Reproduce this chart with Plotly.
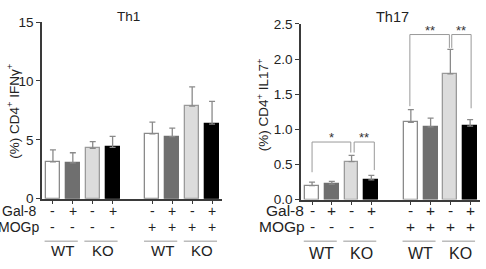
import plotly.graph_objects as go

W, H = 486, 269

# ---- data ----
positions = [0, 1, 2, 3, 5, 6, 7, 8]
th1_vals = [3.13, 3.05, 4.28, 4.36, 5.5, 5.27, 7.87, 6.34]
th1_err = [1.02, 0.85, 0.56, 0.94, 1.0, 0.73, 1.63, 1.93]
th17_vals = [0.20, 0.22, 0.54, 0.28, 1.10, 1.035, 1.79, 1.045]
th17_err = [0.05, 0.04, 0.09, 0.065, 0.18, 0.125, 0.35, 0.095]
gal8_row = ["-", "+", "-", "+", "-", "+", "-", "+"]
mogp_row = ["-", "-", "-", "-", "+", "+", "+", "+"]
groups = ["WT", "KO", "WT", "KO"]
group_start = [0, 2, 5, 7]
# significance brackets on Th17: (left x, right x, bracket y, left leg bottom, right leg bottom, label)
sig_brackets = [
    (0.0, 1.96, 0.82, 0.39, 0.67, "*"),
    (2.13, 3.15, 0.82, 0.67, 0.42, "**"),
    (4.95, 6.95, 2.35, 1.33, 2.16, "**"),
    (7.07, 8.05, 2.35, 2.16, 1.30, "**"),
]
fill_colors = ["#ffffff", "#6f6f6f", "#dcdcdc", "#000000"] * 2
line_colors = ["#8a8a8a", "#6f6f6f", "#9a9a9a", "#000000"] * 2

fig = go.Figure()

def px_x(p):
    return p / W

def px_y(p):
    return 1 - p / H

for xa, ya, vals, errs in [("x", "y", th1_vals, th1_err), ("x2", "y2", th17_vals, th17_err)]:
    fig.add_trace(go.Bar(
        x=positions, y=vals, width=0.7, xaxis=xa, yaxis=ya,
        marker=dict(color=fill_colors, line=dict(color=line_colors, width=1.3)),
        error_y=dict(type="data", array=errs, arrayminus=[0] * len(errs), symmetric=False,
                     color="#8a8a8a", thickness=1.3, width=3),
        showlegend=False, hoverinfo="skip",
    ))

FAM = "Liberation Sans, Arial"
axis_common = dict(showgrid=False, zeroline=False, showline=True, linecolor="#3a3a3a", linewidth=1.6,
                   ticks="outside", ticklen=4, tickwidth=1.3, tickcolor="#3a3a3a",
                   tickfont=dict(family=FAM, size=13.5, color="#222"))

fig.update_layout(
    width=W, height=H, margin=dict(l=0, r=0, t=0, b=0),
    paper_bgcolor="white", plot_bgcolor="white", bargap=0,
    xaxis=dict(domain=[px_x(42), px_x(222)], range=[-0.55, 8.5], tickvals=positions,
               ticktext=[""] * 8, anchor="y", **axis_common),
    yaxis=dict(domain=[px_y(203), px_y(16)], range=[0, 15], tickvals=[0, 5, 10, 15],
               anchor="x", **axis_common),
    xaxis2=dict(domain=[px_x(301), px_x(480)], range=[-0.56, 8.5], tickvals=positions,
                ticktext=[""] * 8, anchor="y2", **axis_common),
    yaxis2=dict(domain=[px_y(204), px_y(18)], range=[0, 2.5], tickvals=[0, 0.5, 1.0, 1.5, 2.0, 2.5],
                tickformat=".1f", anchor="x2", **axis_common),
)

ann = []
shapes = []

def text(t, x, y, size, xref="paper", yref="paper", xanchor="center", yanchor="middle", color="#222", **kw):
    ann.append(dict(text=t, x=x, y=y, xref=xref, yref=yref, xanchor=xanchor, yanchor=yanchor,
                    showarrow=False, font=dict(family=FAM, size=size, color=color), **kw))

# titles
text("Th1", px_x(128), px_y(10), 13.5)
text("Th17", px_x(392), px_y(11), 14.5)
# axis titles
text("(%) CD4<sup>+</sup> IFNγ<sup>+</sup>", px_x(13), px_y(110), 13.5, textangle=-90)
text("(%) CD4<sup>+</sup> IL17<sup>+</sup>", px_x(263), px_y(104), 13.5, textangle=-90)

# panel: xref, Gal-8 right edge, MOGp right edge, row font, group label y, group font
panels = [("x", 38, 41, 14, 257.5, 15), ("x2", 306, 307, 15.5, 261, 16)]
for xa, gal_right, mog_right, rs, grp_y, gs_font in panels:
    text("Gal-8", px_x(gal_right), px_y(216), rs, xanchor="right")
    text("MOGp", px_x(mog_right), px_y(232.5), rs, xanchor="right")
    for p, g, m in zip(positions, gal8_row, mogp_row):
        text(g, p, px_y(216), rs, xref=xa)
        text(m, p, px_y(232.5), rs, xref=xa)
    for gs, gname in zip(group_start, groups):
        shapes.append(dict(type="line", xref=xa, yref="paper", x0=gs - 0.42, x1=gs + 1.25,
                           y0=px_y(248), y1=px_y(248), line=dict(color="#999", width=1)))
        text(gname, gs + 0.5, px_y(grp_y), gs_font, xref=xa)

# significance brackets
for x0, x1, yb, la, lb, lab in sig_brackets:
    path = f"M {x0},{la} L {x0},{yb} L {x1},{yb} L {x1},{lb}"
    shapes.append(dict(type="path", xref="x2", yref="y2", path=path, line=dict(color="#999", width=1)))
    text(lab, (x0 + x1) / 2, yb, 13, xref="x2", yref="y2", yanchor="bottom", yshift=-5, color="#333")

fig.update_layout(annotations=ann, shapes=shapes)
fig.write_html("out.html")
